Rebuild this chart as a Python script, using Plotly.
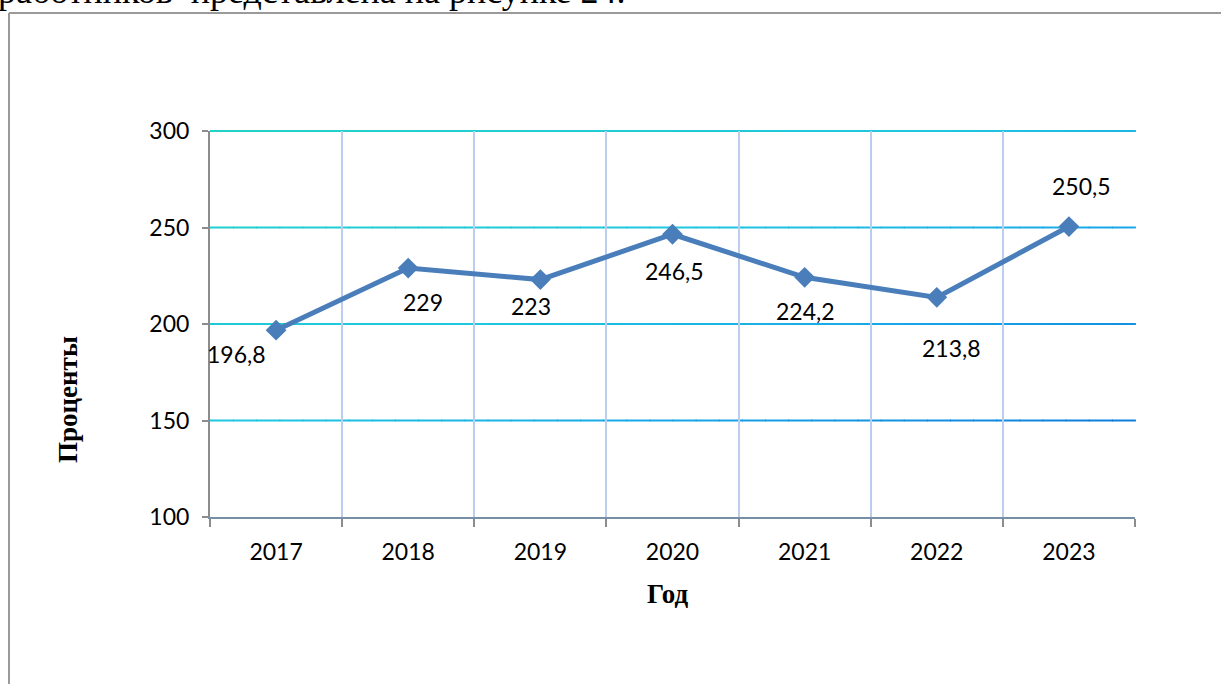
import plotly.graph_objects as go

# ---- data ----
years = ["2017", "2018", "2019", "2020", "2021", "2022", "2023"]
values = [196.8, 229, 223, 246.5, 224.2, 213.8, 250.5]
y_ticks = [100, 150, 200, 250, 300]
y_title = "Проценты"
x_title = "Год"
top_text = "работников  представлена на рисунке 24."

# ---- style ----
label_dx = [-40, 15, -9, 2, 1, 15, 13]
label_dy = [-24, -34, -26, -37, -34, -51, 41]
W, H = 1221, 684
L, R, T, B = 210, 1135, 131, 517


def px_x(p):
    return (p - L) / (R - L)


def px_y(p):
    return (B - p) / (B - T)


def fmt(v):
    return f"{v:g}".replace(".", ",")


def lerp_color(stops, t):
    t = max(0.0, min(1.0, t))
    for (t0, c0), (t1, c1) in zip(stops[:-1], stops[1:]):
        if t0 <= t <= t1:
            f = (t - t0) / (t1 - t0) if t1 > t0 else 0
            a = [int(c0[i:i + 2], 16) for i in (1, 3, 5)]
            b = [int(c1[i:i + 2], 16) for i in (1, 3, 5)]
            return "#%02x%02x%02x" % tuple(round(a[k] + (b[k] - a[k]) * f) for k in range(3))
    return stops[-1][1]


grad = [(0.0, "#22d2c6"), (0.4, "#1ec6e0"), (0.62, "#18a6e8"), (1.0, "#0868d4")]

fig = go.Figure()
fig.add_trace(go.Scatter(
    x=years, y=values, mode="lines+markers",
    line=dict(color="#4a7ebb", width=5),
    marker=dict(symbol="diamond", size=16, color="#4a7ebb"),
    hoverinfo="skip", showlegend=False,
))

shapes = []
# gradient horizontal gridlines
ymin, ymax = y_ticks[0], y_ticks[-1]
N = 40
for yv in y_ticks[1:]:
    yp = (yv - ymin) / (ymax - ymin)
    for i in range(N):
        x0, x1 = i / N, (i + 1) / N
        t = ((x0 + x1) / 2 + (ymax - yv) / (ymax - ymin)) / 2
        shapes.append(dict(type="line", xref="paper", yref="paper", x0=x0, x1=x1 + 0.001,
                           y0=yp, y1=yp, line=dict(color=lerp_color(grad, t), width=2),
                           layer="below"))
# document frame
shapes.append(dict(type="line", xref="paper", yref="paper", x0=px_x(9), x1=px_x(1240),
                   y0=px_y(13), y1=px_y(13), line=dict(color="#9a9a9a", width=2)))
shapes.append(dict(type="line", xref="paper", yref="paper", x0=px_x(9), x1=px_x(9),
                   y0=px_y(13), y1=px_y(700), line=dict(color="#9a9a9a", width=2)))

annotations = []
for i, v in enumerate(values):
    annotations.append(dict(x=i, y=v, xref="x", yref="y", text=fmt(v), showarrow=False,
                            xshift=label_dx[i], yshift=label_dy[i],
                            font=dict(family="Lato", size=23, color="#000000")))
annotations.append(dict(x=px_x(68), y=px_y(400), xref="paper", yref="paper",
                        text="<b>" + y_title + "</b>",
                        showarrow=False, textangle=-90,
                        font=dict(family="Liberation Serif", size=27, color="#000000"),
                        xanchor="center", yanchor="middle"))
annotations.append(dict(x=px_x(668), y=px_y(594), xref="paper", yref="paper",
                        text="<b>" + x_title + "</b>",
                        showarrow=False,
                        font=dict(family="Liberation Serif", size=27, color="#000000"),
                        xanchor="center", yanchor="middle"))
annotations.append(dict(x=px_x(-4), y=px_y(-9), xref="paper", yref="paper", text=top_text,
                        showarrow=False,
                        font=dict(family="Liberation Serif", size=36, color="#000000"),
                        xanchor="left", yanchor="middle"))

fig.update_layout(
    width=W, height=H,
    margin=dict(l=L, r=W - R, t=T, b=H - B, pad=0),
    paper_bgcolor="white", plot_bgcolor="white",
    shapes=shapes, annotations=annotations,
    xaxis=dict(
        type="category", range=[-0.5, len(years) - 0.5], tickson="boundaries",
        showgrid=True, gridcolor="#bccdee", gridwidth=1.5,
        showline=True, linecolor="#7590a6", linewidth=2,
        ticks="outside", ticklen=8, tickwidth=2, tickcolor="#8c8c8c",
        ticklabelstandoff=13,
        tickfont=dict(family="Lato", size=23, color="#000000"),
        zeroline=False,
    ),
    yaxis=dict(
        range=[ymin, ymax], tickvals=y_ticks, ticktext=[str(v) for v in y_ticks],
        showgrid=False, zeroline=False,
        showline=True, linecolor="#8c8c8c", linewidth=2,
        ticks="outside", ticklen=6, tickwidth=2, tickcolor="#8c8c8c",
        ticklabelstandoff=8,
        tickfont=dict(family="Lato", size=23, color="#000000"),
    ),
)

fig.write_html("out.html", config={"displayModeBar": False},
               post_script="document.body.style.margin='0';")
